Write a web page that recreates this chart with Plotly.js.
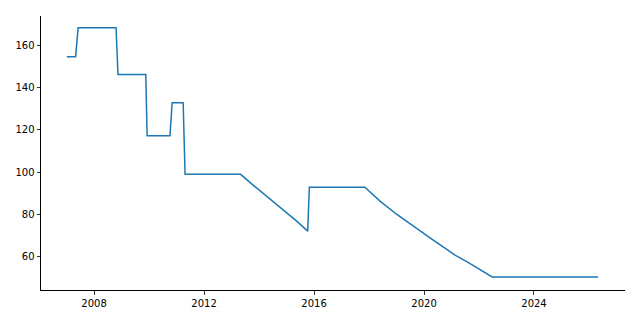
<!DOCTYPE html>
<html>
<head>
<meta charset="utf-8">
<script src="https://cdn.plot.ly/plotly-3.0.1.min.js"></script>
<style>html,body{margin:0;padding:0;background:#fff;}#chart{width:640px;height:320px;}</style>
</head>
<body>
<div id="chart"></div>
<script>
const years = [2007.01, 2007.33, 2007.42, 2008.80, 2008.87, 2009.88, 2009.93, 2010.76, 2010.84, 2011.24, 2011.31, 2013.33, 2013.70, 2014.16, 2014.50, 2014.88, 2015.37, 2015.77, 2015.83, 2017.85, 2018.40, 2019.00, 2019.61, 2019.92, 2020.40, 2020.83, 2021.13, 2021.60, 2022.04, 2022.48, 2026.33];
const values = [154.7, 154.7, 168.4, 168.4, 146.3, 146.3, 117.3, 117.3, 132.9, 132.9, 99.0, 99.0, 94.8, 89.9, 86.1, 81.9, 76.8, 72.1, 92.9, 92.9, 86.3, 80.1, 74.4, 71.4, 67.2, 63.4, 60.7, 57.3, 53.9, 50.4, 50.4];
const xTicks = [2008, 2012, 2016, 2020, 2024];
const yTicks = [60, 80, 100, 120, 140, 160];

const trace = {
  x: years, y: values, type: 'scatter', mode: 'lines',
  line: {color: '#1f77b4', width: 1.5},
  hoverinfo: 'none'
};
const axisCommon = {
  showgrid: false, zeroline: false, showline: true, linecolor: '#000', linewidth: 1,
  ticks: 'outside', ticklen: 3.5, tickwidth: 0.8, tickcolor: '#000',
  tickfont: {family: 'DejaVu Sans', size: 10, color: '#000'}
};
const layout = {
  width: 640, height: 320,
  margin: {l: 41, r: 15, t: 16, b: 30},
  paper_bgcolor: '#fff', plot_bgcolor: '#fff',
  showlegend: false,
  xaxis: Object.assign({}, axisCommon, {range: [2006.07, 2027.31], tickvals: xTicks, ticktext: xTicks.map(String)}),
  yaxis: Object.assign({}, axisCommon, {range: [44.2, 174.0], tickvals: yTicks, ticktext: yTicks.map(String)})
};
Plotly.newPlot('chart', [trace], layout, {staticPlot: true, displayModeBar: false});
</script>
</body>
</html>
